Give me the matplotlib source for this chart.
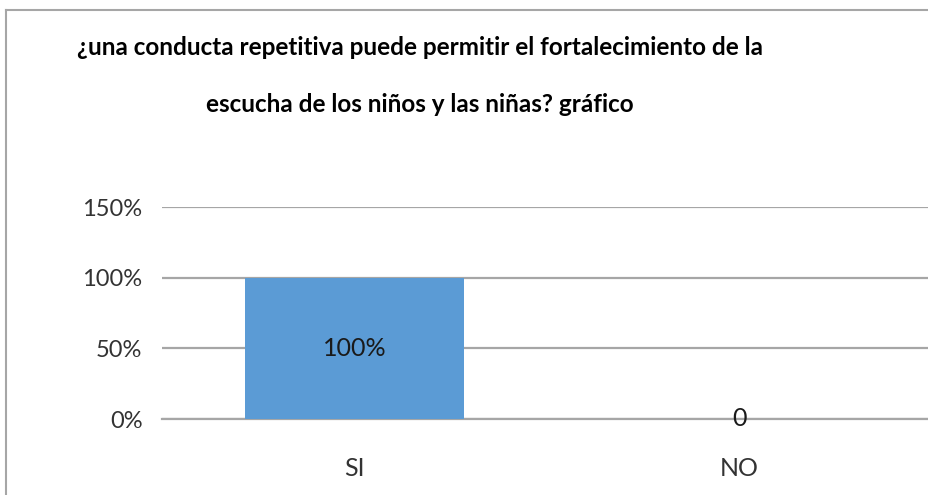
import matplotlib.pyplot as plt
from matplotlib.lines import Line2D

# data
categories = ['SI', 'NO']
values = [1.0, 0.0]
bar_labels = ['100%', '0']
yticks = [0, 0.5, 1.0, 1.5]
ytick_labels = ['0%', '50%', '100%', '150%']
title = '¿una conducta repetitiva puede permitir el fortalecimiento de la\nescucha de los niños y las niñas? gráfico'

plt.rcParams['font.family'] = ['Lato', 'DejaVu Sans']

fig = plt.figure(figsize=(9.29, 4.95), dpi=100)
# outer chart border (only top and left are visible in the crop)
bx, by = 6 / 929, 1 - 10 / 495
fig.add_artist(Line2D([bx, 1.0], [by, by], transform=fig.transFigure,
                      color='#a6a6a6', linewidth=1.5))
fig.add_artist(Line2D([bx, bx], [0, by], transform=fig.transFigure,
                      color='#a6a6a6', linewidth=1.5))

ax = fig.add_axes([162 / 929, (495 - 419) / 495, 770 / 929, (419 - 207) / 495])

bars = ax.bar(range(len(categories)), values, width=0.57, color='#5b9bd5', zorder=3)
ax.bar_label(bars, labels=bar_labels, label_type='center', fontsize=18, color='#1a1a1a')

ax.set_xlim(-0.5, 1.5)
ax.set_ylim(0, 1.5)
ax.set_yticks(yticks)
ax.set_yticklabels(ytick_labels, fontsize=17, color='#333333')
ax.set_xticks(range(len(categories)))
ax.set_xticklabels(categories, fontsize=18, color='#333333')
ax.tick_params(axis='y', length=0, pad=14)
ax.tick_params(axis='x', length=0, pad=27)
ax.grid(axis='y', color='#a6a6a6', linewidth=1.6, zorder=0)
for s in ['top', 'right', 'left']:
    ax.spines[s].set_visible(False)
ax.spines['bottom'].set_color('#a6a6a6')
ax.spines['bottom'].set_linewidth(1.6)

fig.text(420 / 929, 1 - 76 / 495, title, ha='center', va='center',
         fontsize=17.5, fontweight='bold', linespacing=2.8)

fig.savefig('out.png', dpi=100)
